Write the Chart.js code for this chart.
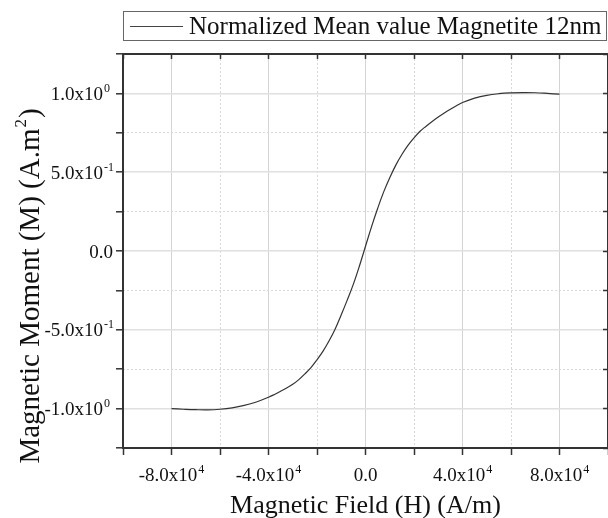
<!DOCTYPE html>
<html lang="en">
<head>
<meta charset="UTF-8">
<title>Magnetization curve</title>
<style>
  html, body { margin: 0; padding: 0; background: #fff; overflow: hidden; }
</style>
<script src="https://cdn.jsdelivr.net/npm/chart.js@4.4.1/dist/chart.umd.min.js"></script>
</head>
<body>
<canvas id="chart" width="612" height="518"></canvas>
<script>
    // values
    const fieldH = [-80000, -75000, -70000, -65000, -60000, -55000, -50000, -45000, -40000, -37500,
                    -35000, -32500, -30000, -27500, -25000, -22500, -20000, -17500, -15000, -12500,
                    -10000, -7500, -5000, -2500, 0, 2500, 5000, 7500, 10000, 12500,
                    15000, 17500, 20000, 22500, 25000, 27500, 30000, 32500, 35000, 37500,
                    40000, 45000, 50000, 55000, 60000, 65000, 70000, 75000, 80000];
    const moment = [-1.0, -1.004, -1.007, -1.008, -1.004, -0.995, -0.98, -0.958, -0.928, -0.91,
                    -0.89, -0.869, -0.846, -0.816, -0.78, -0.74, -0.69, -0.635, -0.57, -0.495,
                    -0.405, -0.31, -0.21, -0.095, 0.03, 0.155, 0.27, 0.375, 0.465, 0.545,
                    0.612, 0.67, 0.718, 0.76, 0.792, 0.822, 0.85, 0.876, 0.9, 0.922,
                    0.942, 0.97, 0.988, 0.998, 1.003, 1.005, 1.004, 1.0, 0.995];

    const xTickValues = [-80000, -40000, 0, 40000, 80000];
    const xTickBase = ['-8.0x10', '-4.0x10', '0.0', '4.0x10', '8.0x10'];
    const xTickExp = ['4', '4', '', '4', '4'];
    const yTickValues = [1, 0.5, 0, -0.5, -1];
    const yTickBase = ['1.0x10', '5.0x10', '0.0', '-5.0x10', '-1.0x10'];
    const yTickExp = ['0', '-1', '', '-1', '0'];

    const seriesLabel = 'Normalized Mean value Magnetite 12nm';
    const xTitle = 'Magnetic Field (H) (A/m)';
    const yTitle = ['Magnetic Moment (M) (A.m', '2', ')'];

    const FONT = '"Liberation Serif", "Times New Roman", serif';
    const AXIS = '#333';

    const isMajorX = v => Math.abs(Math.round(v)) % 40000 === 0;
    const isMajorY = v => Math.abs(Math.round(v * 100)) % 50 === 0;

    // draws "base" with a small raised exponent
    function drawSup(ctx, base, exp, x, y, align, size, expSize, rise) {
        ctx.font = size + 'px ' + FONT;
        const wb = ctx.measureText(base).width;
        ctx.font = expSize + 'px ' + FONT;
        const we = exp ? ctx.measureText(exp).width + 1 : 0;
        let left = x;
        if (align === 'center') left = x - (wb + we) / 2;
        if (align === 'right') left = x - wb;
        ctx.textAlign = 'left';
        ctx.textBaseline = 'alphabetic';
        ctx.font = size + 'px ' + FONT;
        ctx.fillText(base, left, y);
        if (exp) {
            ctx.font = expSize + 'px ' + FONT;
            ctx.fillText(exp, left + wb + 1, y - rise);
        }
    }

    const textPlugin = {
        id: 'textPlugin',
        afterDraw(chart) {
            const ctx = chart.ctx;
            const xs = chart.scales.x, ys = chart.scales.y;
            ctx.save();
            ctx.fillStyle = '#111';

            xTickValues.forEach((v, i) => {
                drawSup(ctx, xTickBase[i], xTickExp[i], xs.getPixelForValue(v), 481, 'center', 19, 12, 8);
            });
            yTickValues.forEach((v, i) => {
                const py = ys.getPixelForValue(v) + 6.5;
                const right = yTickExp[i] ? 103 : 113;
                drawSup(ctx, yTickBase[i], yTickExp[i], right, py, 'right', 19, 12, 8);
            });

            // x title
            ctx.font = '26px ' + FONT;
            ctx.textAlign = 'center';
            ctx.fillText(xTitle, xs.getPixelForValue(0), 513);

            // y title, rotated
            ctx.save();
            ctx.translate(39, 286);
            ctx.rotate(-Math.PI / 2);
            ctx.font = '29px ' + FONT;
            const w0 = ctx.measureText(yTitle[0]).width;
            const w2 = ctx.measureText(yTitle[2]).width;
            ctx.font = '17px ' + FONT;
            const w1 = ctx.measureText(yTitle[1]).width;
            const left = -(w0 + w1 + w2 + 2) / 2;
            ctx.textAlign = 'left';
            ctx.font = '29px ' + FONT;
            ctx.fillText(yTitle[0], left, 0);
            ctx.font = '17px ' + FONT;
            ctx.fillText(yTitle[1], left + w0 + 1, -13);
            ctx.font = '29px ' + FONT;
            ctx.fillText(yTitle[2], left + w0 + w1 + 2, 0);
            ctx.restore();

            // legend box
            ctx.strokeStyle = '#666';
            ctx.lineWidth = 1;
            ctx.strokeRect(123.5, 11.5, 483, 29);
            ctx.strokeStyle = '#444';
            ctx.beginPath();
            ctx.moveTo(130, 26.5);
            ctx.lineTo(183, 26.5);
            ctx.stroke();
            ctx.font = '25px ' + FONT;
            ctx.textAlign = 'left';
            ctx.fillText(chart.data.datasets[0].label, 189, 34);
            ctx.restore();
        }
    };

    new Chart(document.getElementById('chart'), {
        type: 'line',
        data: {
            datasets: [{
                label: seriesLabel,
                data: fieldH.map((h, i) => ({ x: h, y: moment[i] })),
                borderColor: '#333',
                borderWidth: 1.2,
                pointRadius: 0,
                tension: 0.4,
                xAxisID: 'x',
                yAxisID: 'y'
            }]
        },
        options: {
            responsive: false,
            animation: false,
            layout: { padding: { top: 44, left: 0, right: 2, bottom: 0 } },
            plugins: { legend: { display: false }, tooltip: { enabled: false } },
            scales: {
                x: {
                    type: 'linear', position: 'bottom', min: -100000, max: 100000,
                    ticks: { stepSize: 20000, display: false },
                    grid: {
                        color: c => (c.tick && isMajorX(c.tick.value)) ? '#d4d4d4' : 'rgba(0,0,0,0)',
                        tickColor: AXIS, tickLength: 7, tickWidth: 1.5
                    },
                    border: { color: AXIS, width: 2 },
                    afterFit: s => { s.height = 70; }
                },
                xTop: {
                    type: 'linear', position: 'top', min: -100000, max: 100000,
                    ticks: { stepSize: 20000, display: false },
                    grid: {
                        color: c => (c.tick && !isMajorX(c.tick.value)) ? '#d8d8d8' : 'rgba(0,0,0,0)',
                        tickColor: AXIS, tickLength: -5, tickWidth: 1.5
                    },
                    border: { color: AXIS, width: 2, dash: [2, 2] },
                    afterFit: s => { s.height = 10; }
                },
                y: {
                    type: 'linear', position: 'left', min: -1.25, max: 1.25,
                    ticks: { stepSize: 0.25, display: false },
                    grid: {
                        color: c => (c.tick && isMajorY(c.tick.value)) ? '#e0e0e0' : 'rgba(0,0,0,0)',
                        lineWidth: 1.6,
                        tickColor: AXIS, tickLength: 7, tickWidth: 1.5
                    },
                    border: { color: AXIS, width: 2 },
                    afterFit: s => { s.width = 123; }
                },
                yRight: {
                    type: 'linear', position: 'right', min: -1.25, max: 1.25,
                    ticks: { stepSize: 0.25, display: false },
                    grid: {
                        color: c => (c.tick && !isMajorY(c.tick.value)) ? '#d8d8d8' : 'rgba(0,0,0,0)',
                        tickColor: AXIS, tickLength: -5, tickWidth: 1.5
                    },
                    border: { color: AXIS, width: 2, dash: [2, 2] },
                    afterFit: s => { s.width = 2; }
                }
            }
        },
        plugins: [textPlugin]
    });
</script>
</body>
</html>
